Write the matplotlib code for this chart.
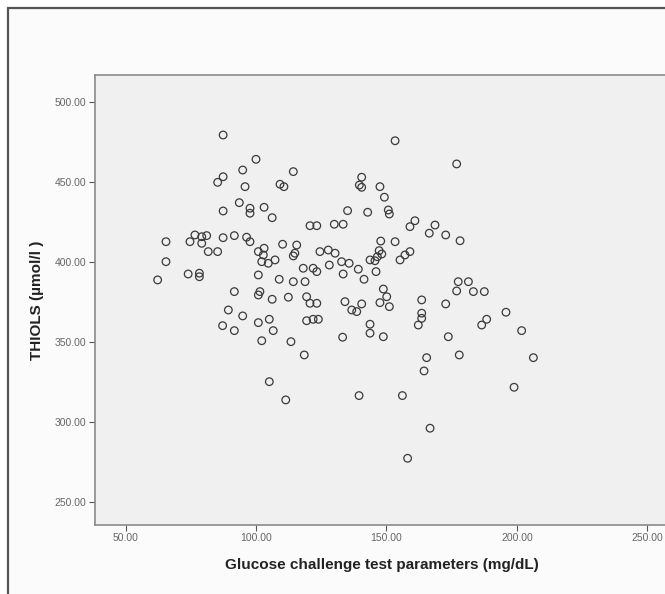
import numpy as np
import matplotlib
matplotlib.use("Agg")
import matplotlib.pyplot as plt
from matplotlib.patches import Rectangle

plt.rcParams['font.family'] = ['Liberation Sans', 'DejaVu Sans']

# glucose challenge test (mg/dL) vs thiols (umol/l)
glucose = [87.4, 100.0, 94.9, 114.3, 87.4, 85.3, 95.8, 109.2, 110.7, 93.6,
           97.7, 97.7, 103.1, 87.4, 106.2, 120.7, 123.3, 65.5, 74.7, 76.6,
           79.2, 81.1, 79.2, 87.4, 91.7, 96.4, 97.7, 81.7, 85.3, 103.1,
           100.9, 102.8, 102.2, 104.7, 107.3, 110.2, 115.6, 114.9, 114.3, 124.5,
           65.5, 74.0, 78.3, 78.3, 100.9, 108.9, 114.3, 118.8, 118.1, 121.9,
           123.3, 62.3, 153.3, 176.9, 140.5, 139.6, 140.5, 147.5, 149.2, 135.1,
           142.8, 150.7, 151.1, 130.0, 133.4, 160.9, 159.0, 168.6, 166.4, 172.7,
           178.2, 147.8, 153.3, 147.2, 148.2, 146.5, 143.7, 145.6, 159.0, 157.1,
           155.2, 127.7, 130.3, 128.1, 132.8, 135.7, 139.2, 133.4, 141.4, 146.0,
           177.5, 181.4, 148.8, 91.7, 101.5, 100.9, 106.2, 112.4, 119.4, 120.7,
           123.3, 89.4, 94.9, 87.2, 91.7, 100.9, 105.1, 106.6, 119.4, 121.9,
           102.2, 113.4, 118.5, 105.1, 111.4, 176.9, 183.3, 187.5, 123.9, 134.1,
           136.7, 138.6, 140.5, 150.1, 147.5, 151.1, 163.5, 163.5, 163.5, 162.2,
           172.7, 143.7, 143.7, 148.8, 133.2, 173.7, 188.4, 186.5, 165.4, 177.9,
           164.4, 139.5, 156.1, 166.7, 158.1, 195.8, 201.8, 206.3, 198.9]
thiols = [479.2, 464.0, 457.3, 456.3, 453.1, 449.6, 446.9, 448.4, 446.9, 436.9,
          433.4, 430.3, 434.0, 431.7, 427.5, 422.5, 422.5, 412.5, 412.5, 416.7,
          415.6, 416.3, 411.5, 415.0, 416.3, 415.3, 412.5, 406.3, 406.3, 408.4,
          406.3, 404.2, 400.0, 399.0, 401.1, 410.9, 410.4, 405.3, 403.6, 406.3,
          400.0, 392.3, 392.8, 390.6, 391.7, 389.0, 387.5, 387.5, 395.9, 395.9,
          393.8, 388.6, 475.6, 461.1, 452.8, 447.9, 446.5, 446.9, 440.3, 431.9,
          430.9, 432.3, 429.8, 423.4, 423.4, 425.6, 421.9, 422.9, 417.8, 416.7,
          413.1, 412.9, 412.5, 406.9, 404.8, 403.1, 401.1, 400.6, 406.3, 404.2,
          401.1, 407.3, 405.3, 397.9, 400.0, 399.0, 395.3, 392.3, 389.0, 393.8,
          387.5, 387.5, 382.9, 381.3, 381.3, 379.2, 376.5, 377.8, 378.1, 374.0,
          374.0, 369.8, 366.1, 360.0, 356.9, 361.9, 364.0, 356.9, 363.1, 364.0,
          350.6, 350.0, 341.7, 325.0, 313.6, 381.7, 381.3, 381.3, 364.0, 375.0,
          369.8, 368.8, 373.6, 378.1, 374.4, 371.9, 376.1, 367.8, 364.6, 360.4,
          373.6, 360.9, 355.3, 353.1, 352.8, 353.1, 364.0, 360.4, 340.0, 341.7,
          331.7, 316.3, 316.3, 295.9, 277.1, 368.4, 356.9, 340.0, 321.5]

x_ticks = [50, 100, 150, 200, 250]
y_ticks = [250, 300, 350, 400, 450, 500]

W, H = 665, 594
fig = plt.figure(figsize=(W / 100, H / 100), dpi=100)
fig.patch.set_facecolor('white')

# outer chart frame (SPSS style), runs off the right/bottom edge
frame = Rectangle((8 / W, -0.05), 1.1, 1 - 8 / H + 0.05,
                  transform=fig.transFigure, facecolor='#fbfbfb',
                  edgecolor='#555555', linewidth=1.6, zorder=-10)
fig.add_artist(frame)

ax = fig.add_axes([95 / W, (H - 525) / H, 578.5 / W, 450 / H])
ax.set_facecolor('#f0f0f0')
for s in ax.spines.values():
    s.set_color('#8a8a8a')
    s.set_linewidth(1.2)

ax.scatter(glucose, thiols, s=30, facecolors='none', edgecolors='#3a3a3a',
           linewidths=0.9, zorder=3)

ax.set_xlim(38.3, 260)
ax.set_ylim(235.4, 516.7)
ax.set_xticks(x_ticks)
ax.set_yticks(y_ticks)
ax.set_xticklabels(['%.2f' % v for v in x_ticks])
ax.set_yticklabels(['%.2f' % v for v in y_ticks])
ax.tick_params(direction='out', length=4, width=0.8, colors='#555555',
               labelsize=7.5, labelcolor='#666666', pad=2)

ax.set_xlabel('Glucose challenge test parameters (mg/dL)', fontsize=11,
              fontweight='bold', color='#222222')
ax.set_ylabel('THIOLS (\u00b5mol/l )', fontsize=11, fontweight='bold',
              color='#222222')
ax.xaxis.set_label_coords((382 - 95) / 578.5, -(565 - 525) / 450)
ax.yaxis.set_label_coords(-(95 - 37) / 578.5, 0.5)
ax.xaxis.label.set_va('center')
ax.yaxis.label.set_va('center')

fig.savefig('out.png', dpi=100)
